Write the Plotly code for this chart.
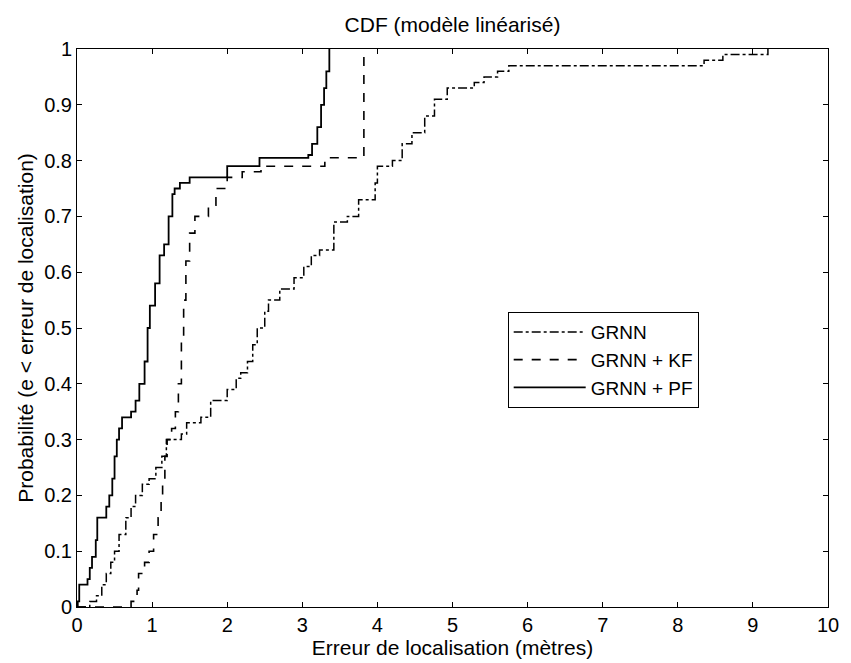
import plotly.graph_objects as go

# GRNN (dash-dot)
grnn_x = [0, 0.17, 0.26, 0.33, 0.39, 0.45, 0.5, 0.56, 0.65, 0.72, 0.78, 0.87, 0.96, 1.05, 1.13, 1.19,
          1.39, 1.46, 1.65, 1.78, 2.0, 2.12, 2.18, 2.27, 2.34, 2.4, 2.5, 2.55, 2.7, 2.89, 3.02, 3.12,
          3.23, 3.42, 3.6, 3.75, 3.97, 4.0, 4.2, 4.33, 4.46, 4.63, 4.76, 4.93, 5.29, 5.42, 5.6, 5.75,
          8.35, 8.6, 9.2]
grnn_y = [0, 0.01, 0.02, 0.04, 0.06, 0.08, 0.1, 0.13, 0.16, 0.18, 0.2, 0.22, 0.23, 0.25, 0.27, 0.3,
          0.31, 0.33, 0.34, 0.37, 0.39, 0.41, 0.42, 0.44, 0.47, 0.5, 0.53, 0.55, 0.57, 0.59, 0.61, 0.63,
          0.64, 0.69, 0.7, 0.73, 0.76, 0.79, 0.8, 0.83, 0.85, 0.88, 0.91, 0.93, 0.94, 0.95, 0.96, 0.97,
          0.98, 0.99, 1.0]

# GRNN + KF (dashed)
kf_x = [0, 0.72, 0.8, 0.82, 0.9, 0.96, 1.02, 1.08, 1.12, 1.14, 1.17, 1.2, 1.26, 1.31, 1.35, 1.39,
        1.42, 1.45, 1.5, 1.57, 1.75, 1.85, 2.0, 2.2, 2.45, 3.3, 3.82]
kf_y = [0, 0.01, 0.03, 0.06, 0.08, 0.1, 0.13, 0.16, 0.19, 0.22, 0.27, 0.3, 0.32, 0.35, 0.4, 0.48,
        0.55, 0.62, 0.67, 0.7, 0.72, 0.75, 0.77, 0.78, 0.79, 0.805, 1.0]

# GRNN + PF (solid)
pf_x = [0, 0.01, 0.03, 0.14, 0.17, 0.2, 0.25, 0.27, 0.39, 0.43, 0.47, 0.5, 0.53, 0.56, 0.6, 0.72,
        0.78, 0.83, 0.9, 0.94, 0.97, 1.04, 1.1, 1.16, 1.22, 1.27, 1.3, 1.37, 1.5, 2.0, 2.43, 3.08,
        3.13, 3.2, 3.25, 3.29, 3.32, 3.36]
pf_y = [0, 0.01, 0.04, 0.05, 0.07, 0.09, 0.12, 0.16, 0.18, 0.2, 0.23, 0.27, 0.3, 0.32, 0.34, 0.35,
        0.37, 0.4, 0.44, 0.5, 0.54, 0.58, 0.63, 0.65, 0.7, 0.74, 0.75, 0.76, 0.77, 0.79, 0.805, 0.81,
        0.83, 0.86, 0.9, 0.93, 0.96, 1.0]

x_ticks = list(range(0, 11))
y_ticks = [round(i * 0.1, 1) for i in range(11)]
y_ticklabels = ["0", "0.1", "0.2", "0.3", "0.4", "0.5", "0.6", "0.7", "0.8", "0.9", "1"]

FONT = "Liberation Sans, Arial, Helvetica, sans-serif"

fig = go.Figure()
fig.add_trace(go.Scatter(x=grnn_x, y=grnn_y, mode="lines", name="GRNN", line_shape="hv",
                         line=dict(color="black", width=1.5, dash="dashdot")))
fig.add_trace(go.Scatter(x=kf_x, y=kf_y, mode="lines", name="GRNN + KF", line_shape="hv",
                         line=dict(color="black", width=1.6, dash="dash")))
fig.add_trace(go.Scatter(x=pf_x, y=pf_y, mode="lines", name="GRNN + PF", line_shape="hv",
                         line=dict(color="black", width=1.8)))

fig.update_layout(
    width=851, height=663,
    margin=dict(l=77, r=12, t=49, b=54),
    paper_bgcolor="white", plot_bgcolor="white",
    font=dict(family=FONT, size=20, color="black"),
    title=dict(text="CDF (modèle linéarisé)", x=0.5, xref="paper", xanchor="center",
               y=1 - 25 / 663, yanchor="middle", font=dict(size=21)),
    showlegend=True,
    legend=dict(x=(514 - 77) / 762, y=(609 - 313) / 560, xanchor="left", yanchor="top",
                bordercolor="black", borderwidth=1, bgcolor="white",
                font=dict(size=19), tracegroupgap=0, itemwidth=72),
)
fig.update_xaxes(range=[0, 10], tickvals=x_ticks, ticks="inside", ticklen=5, tickcolor="black",
                 showline=True, linecolor="black", linewidth=1, mirror="ticks", showgrid=False,
                 zeroline=False, tickfont=dict(size=20),
                 title=dict(text="Erreur de localisation (mètres)", font=dict(size=21), standoff=0))
fig.update_yaxes(range=[0, 1], tickvals=y_ticks, ticktext=y_ticklabels, ticks="inside", ticklen=5,
                 tickcolor="black", showline=True, linecolor="black", linewidth=1, mirror="ticks",
                 showgrid=False, zeroline=False, tickfont=dict(size=20),
                 title=dict(text="Probabilité (e < erreur de localisation)", font=dict(size=21), standoff=4))

fig.write_html("out.html")
